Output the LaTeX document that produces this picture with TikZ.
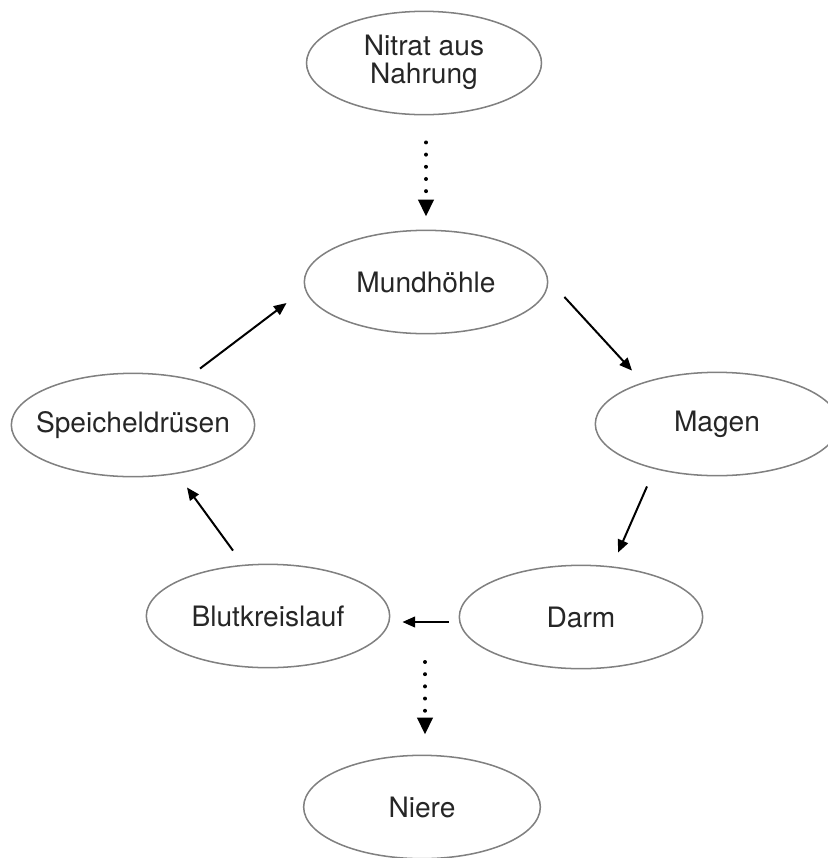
\documentclass[tikz,border=0pt]{standalone}
\usepackage{fontspec}
\setmainfont{TeX Gyre Heros}
\usetikzlibrary{shapes.geometric,arrows.meta}

% text box without width, so the ellipse keeps its own size
\newcommand{\stationtext}[1]{\makebox[0pt][c]{#1}}

\begin{document}
\begin{tikzpicture}[x=0.03cm, y=-0.03cm]
\tikzset{
    stationStyle/.style={ellipse, draw=black!50, line width=1.3pt, inner sep=0pt, minimum width=7.3cm, minimum height=3.1cm, text=black!85, font=\fontsize{24}{27}\selectfont},
    flowArrow/.style={-{Triangle[length=0.38cm, width=0.32cm]}, line width=1.7pt, black},
    dotArrow/.style={-{Triangle[length=0.51cm, width=0.45cm]}, line width=3.4pt, line cap=round, dash pattern=on 0pt off 10.4pt, black}
}

\useasboundingbox (0,0) rectangle (827,858);

\node[stationStyle, minimum width=7.05cm] (nitrat) at (424,63) {\stationtext{\begin{tabular}{@{}c@{}}Nitrat aus\\[-0.1cm]Nahrung\end{tabular}}};
\node[stationStyle] (mund) at (426,282) {\stationtext{Mundhöhle}};
\node[stationStyle] (magen) at (717,424) {\stationtext{Magen}};
\node[stationStyle] (speichel) at (133,425) {\stationtext{Speicheldrüsen}};
\node[stationStyle] (darm) at (581,617) {\stationtext{Darm}};
\node[stationStyle] (blut) at (268,616) {\stationtext{Blutkreislauf}};
\node[stationStyle, minimum width=7.1cm] (niere) at (422,807) {\stationtext{Niere}};

\coordinate (abzweig) at (425,617);

% Zufuhr
\draw[dotArrow] ([shift={(2,27)}]nitrat.south) -- ([shift={(0,-13)}]mund.north);

% Kreislauf
\draw[flowArrow] ([shift={(16,15)}]mund.east) -- ([shift={(-85,-1)}]magen.north);
\draw[flowArrow] ([shift={(-70,10)}]magen.south) -- ([shift={(37,-12)}]darm.north);
\draw[flowArrow] ([shift={(-10,5)}]darm.west) -- ([shift={(12,6)}]blut.east);
\draw[flowArrow] ([shift={(-35,-13)}]blut.north) -- ([shift={(54,10)}]speichel.south);
\draw[flowArrow] ([shift={(67,-4)}]speichel.north) -- ([shift={(-17,21)}]mund.west);

% Ausscheidung
\draw[dotArrow] ([shift={(0,45)}]abzweig) -- ([shift={(3,-20)}]niere.north);

\end{tikzpicture}
\end{document}
